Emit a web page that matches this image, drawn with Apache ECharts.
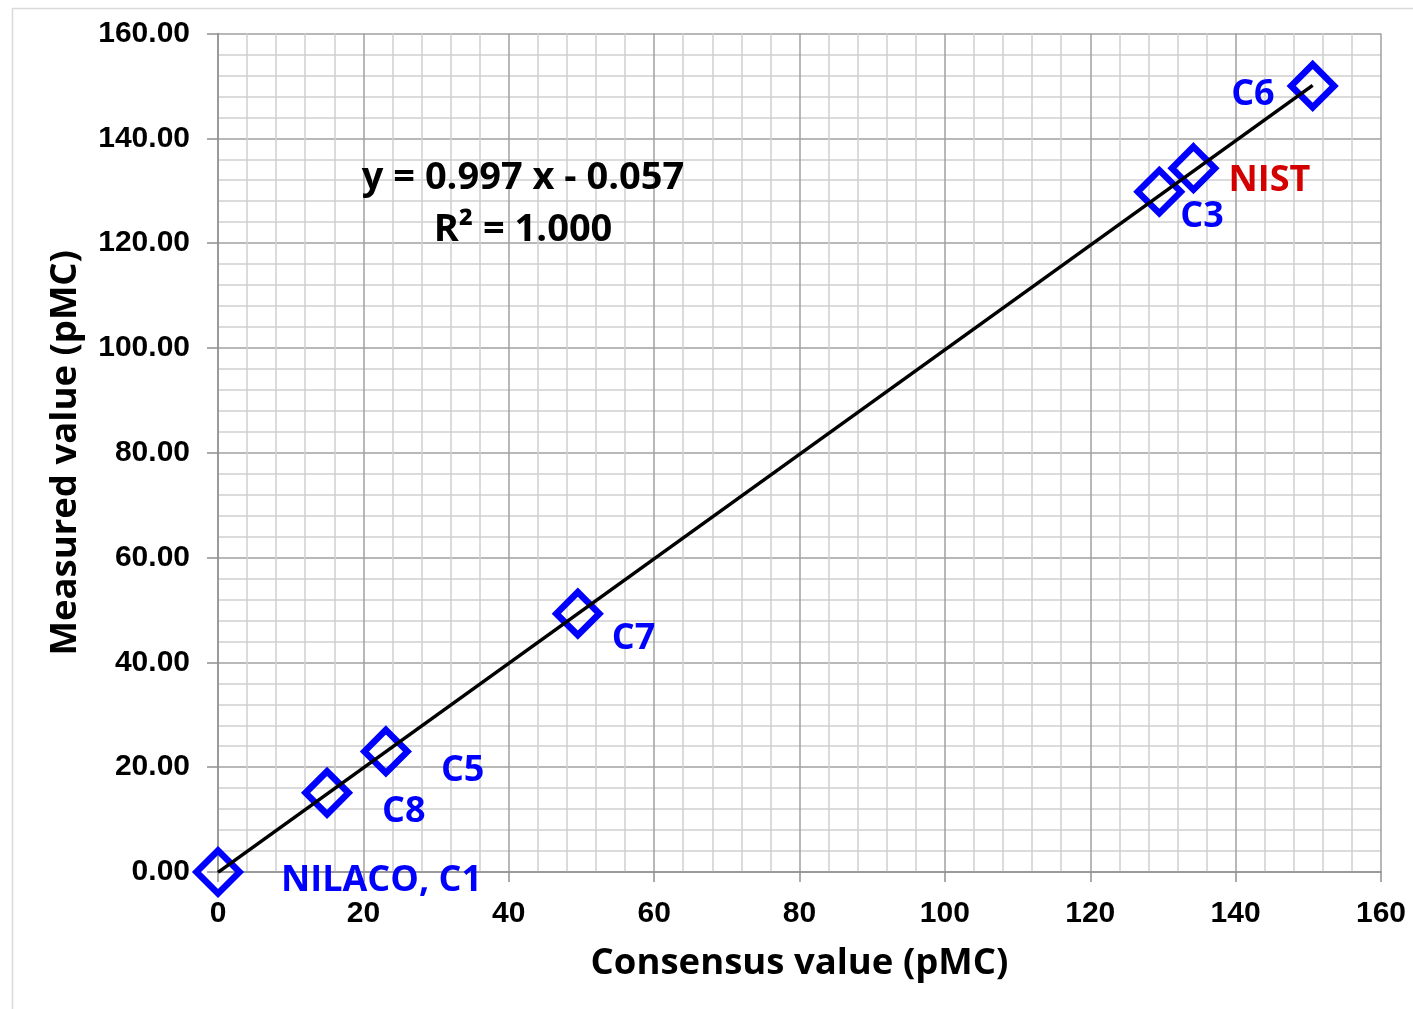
<!DOCTYPE html>
<html>
<head>
<meta charset="utf-8">
<title>Measured vs consensus pMC</title>
<script src="https://cdn.jsdelivr.net/npm/echarts@6/dist/echarts.min.js"></script>
<style>
  html, body { margin: 0; padding: 0; background: #ffffff; }
  #chart { width: 1413px; height: 1009px; }
</style>
</head>
<body>
<div id="chart"></div>
<script>
// Sample names and their consensus / measured pMC values
const sampleNames = ['NILACO, C1', 'C8', 'C5', 'C7', 'C3', 'NIST', 'C6'];
const consensusValues = [0.0, 15.0, 23.1, 49.5, 129.5, 134.2, 150.6];
const measuredValues = [0.0, 15.1, 23.0, 49.3, 129.8, 134.3, 150.0];

// Linear fit reported on the chart
const fitSlope = 0.997;
const fitIntercept = -0.057;
const fitR2 = 1.000;

// Axis ticks
const xTicks = [0, 20, 40, 60, 80, 100, 120, 140, 160];
const yTicks = [0, 20, 40, 60, 80, 100, 120, 140, 160];

// Label placement per sample: [dx, dy, align]
const labelPlacement = {
  'NILACO, C1': [63, 9, 'left'],
  'C8': [55, 19, 'left'],
  'C5': [55, 19, 'left'],
  'C7': [34, 25, 'left'],
  'C3': [21, 25, 'left'],
  'NIST': [35, 13, 'left'],
  'C6': [-38, 9, 'right']
};
const blue = '#0000ff';
const red = '#d40000';
const labelColor = { 'NIST': red };

const boldFont = '"Open Sans", "Noto Sans", sans-serif';
const tickFont = '"Liberation Sans", Arial, sans-serif';

const points = sampleNames.map((name, i) => {
  const p = labelPlacement[name];
  return {
    name: name,
    value: [consensusValues[i], measuredValues[i]],
    label: {
      show: true,
      formatter: name,
      position: 'inside',
      align: p[2],
      verticalAlign: 'middle',
      offset: [p[0], p[1]],
      color: labelColor[name] || blue,
      fontFamily: boldFont,
      fontWeight: 'bold',
      fontSize: 36
    }
  };
});

const xMin = Math.min(...consensusValues);
const xMax = Math.max(...consensusValues);
const fitLine = [
  [xMin, fitSlope * xMin + fitIntercept],
  [xMax, fitSlope * xMax + fitIntercept]
];

const signText = fitIntercept < 0 ? '-' : '+';
const equationText = 'y = ' + fitSlope.toFixed(3) + ' x ' + signText + ' ' + Math.abs(fitIntercept).toFixed(3);
const r2Text = 'R\u00B2 = ' + fitR2.toFixed(3);

const majorGrid = '#a0a0a0';
const minorGrid = '#d0d0d0';

const chart = echarts.init(document.getElementById('chart'), null, { renderer: 'canvas' });
chart.setOption({
  backgroundColor: '#ffffff',
  animation: false,
  grid: { left: 218, right: 32, top: 33.5, bottom: 137, containLabel: false },
  graphic: [
    {
      type: 'rect',
      left: 10, top: 6,
      shape: { width: 1420, height: 1020 },
      style: { fill: 'none', stroke: '#d9d9d9', lineWidth: 1.5 },
      silent: true, z: -10
    },
    {
      type: 'text',
      x: 523, y: 178,
      style: {
        text: equationText,
        align: 'center', verticalAlign: 'middle',
        font: 'bold 38px ' + boldFont,
        fill: '#000000'
      },
      z: 10
    },
    {
      type: 'text',
      x: 523, y: 230,
      style: {
        text: r2Text,
        align: 'center', verticalAlign: 'middle',
        font: 'bold 38px ' + boldFont,
        fill: '#000000'
      },
      z: 10
    }
  ],
  xAxis: {
    type: 'value',
    min: xTicks[0],
    max: xTicks[xTicks.length - 1],
    interval: xTicks[1] - xTicks[0],
    name: 'Consensus value (pMC)',
    nameLocation: 'middle',
    nameGap: 73,
    nameTextStyle: { fontFamily: boldFont, fontWeight: 'bold', fontSize: 36.5, color: '#000' },
    axisLine: { show: true, onZero: false, lineStyle: { color: '#909090', width: 1.5 } },
    axisTick: { show: true, inside: false, length: 10, lineStyle: { color: '#909090', width: 1.5 } },
    axisLabel: {
      margin: 27,
      fontFamily: tickFont, fontWeight: 'bold', fontSize: 30, color: '#000',
      formatter: v => String(v)
    },
    splitLine: { show: true, lineStyle: { color: majorGrid, width: 1.5 } },
    minorTick: { show: false, splitNumber: 5 },
    minorSplitLine: { show: true, lineStyle: { color: minorGrid, width: 1.5 } }
  },
  yAxis: {
    type: 'value',
    min: yTicks[0],
    max: yTicks[yTicks.length - 1],
    interval: yTicks[1] - yTicks[0],
    name: 'Measured value (pMC)',
    nameLocation: 'middle',
    nameGap: 134,
    nameRotate: 90,
    nameTextStyle: { fontFamily: boldFont, fontWeight: 'bold', fontSize: 36.5, color: '#000' },
    axisLine: { show: true, onZero: false, lineStyle: { color: '#909090', width: 1.5 } },
    axisTick: { show: true, inside: false, length: 11, lineStyle: { color: '#909090', width: 1.5 } },
    axisLabel: {
      margin: 28,
      padding: [6, 0, 0, 0],
      fontFamily: tickFont, fontWeight: 'bold', fontSize: 30, color: '#000',
      formatter: v => v.toFixed(2)
    },
    splitLine: { show: true, lineStyle: { color: majorGrid, width: 1.5 } },
    minorTick: { show: false, splitNumber: 5 },
    minorSplitLine: { show: true, lineStyle: { color: minorGrid, width: 1.5 } }
  },
  series: [
    {
      name: 'Samples',
      type: 'scatter',
      symbol: 'diamond',
      symbolSize: 43,
      data: points,
      itemStyle: { color: 'rgba(0,0,0,0)', borderColor: blue, borderWidth: 6.5, opacity: 1 },
      z: 2
    },
    {
      name: 'Fit',
      type: 'line',
      data: fitLine,
      symbol: 'none',
      lineStyle: { color: '#000000', width: 3.5 },
      z: 3
    }
  ]
});
</script>
</body>
</html>
